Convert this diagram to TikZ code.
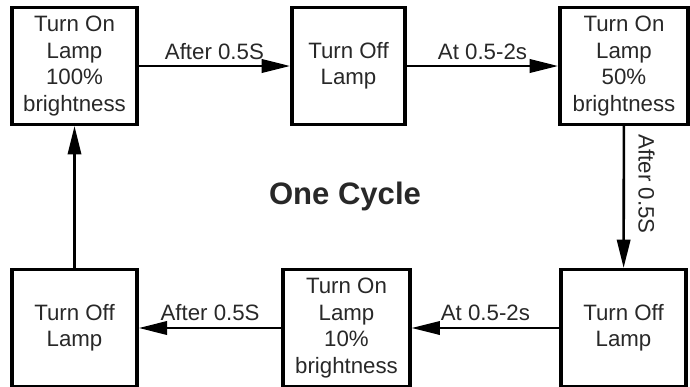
\documentclass[tikz,border=0pt]{standalone}
\usepackage{fontspec}
\setmainfont{Liberation Sans}
\usetikzlibrary{arrows.meta}
\definecolor{inkgray}{RGB}{40,40,40}

\begin{document}
\begin{tikzpicture}[x=0.03cm, y=-0.03cm,
    statebox/.style={draw=black, line width=3pt, minimum width=3.75cm, minimum height=3.5cm,
        align=center, inner sep=0pt, text=inkgray, font=\fontsize{19}{22.5}\selectfont},
    flowarrow/.style={line width=2.2pt, -{Triangle[length=0.85cm, width=0.4cm]}},
    steplabel/.style={text=inkgray, font=\fontsize{19}{22}\selectfont}]
    \useasboundingbox (0,0) rectangle (690,387);

    % top row
    \node[statebox] (on100) at (74.5,66) {Turn On\\Lamp\\100\%\\brightness};
    \node[statebox, minimum width=3.4cm] (offA) at (348.5,66) {Turn Off\\Lamp};
    \node[statebox, minimum width=3.85cm] (on50) at (624,66) {Turn On\\Lamp\\50\%\\brightness};

    % bottom row
    \node[statebox] (offC) at (74.5,328) {Turn Off\\Lamp};
    \node[statebox, minimum width=3.8cm] (on10) at (346.5,328) {Turn On\\Lamp\\10\%\\brightness};
    \node[statebox] (offB) at (623.5,328) {Turn Off\\Lamp};

    \node[text=inkgray, font=\fontsize{26.5}{30}\selectfont\bfseries] (cycle) at (345,196) {One Cycle};

    % connectors
    \draw[flowarrow] (on100) -- node[steplabel, above=1pt] {After 0.5S} (offA);
    \draw[flowarrow] (offA) -- node[steplabel, above=1pt] {At 0.5-2s} (on50);
    \draw[flowarrow] (on50) -- node[steplabel, pos=0.41, rotate=-90, anchor=south, yshift=8pt] {After 0.5S} (offB);
    \draw[flowarrow] (offB) -- node[steplabel, above=2pt] {At 0.5-2s} (on10);
    \draw[flowarrow] (on10) -- node[steplabel, above=2pt] {After 0.5S} (offC);
    \draw[flowarrow] (offC) -- (on100);
\end{tikzpicture}
\end{document}
